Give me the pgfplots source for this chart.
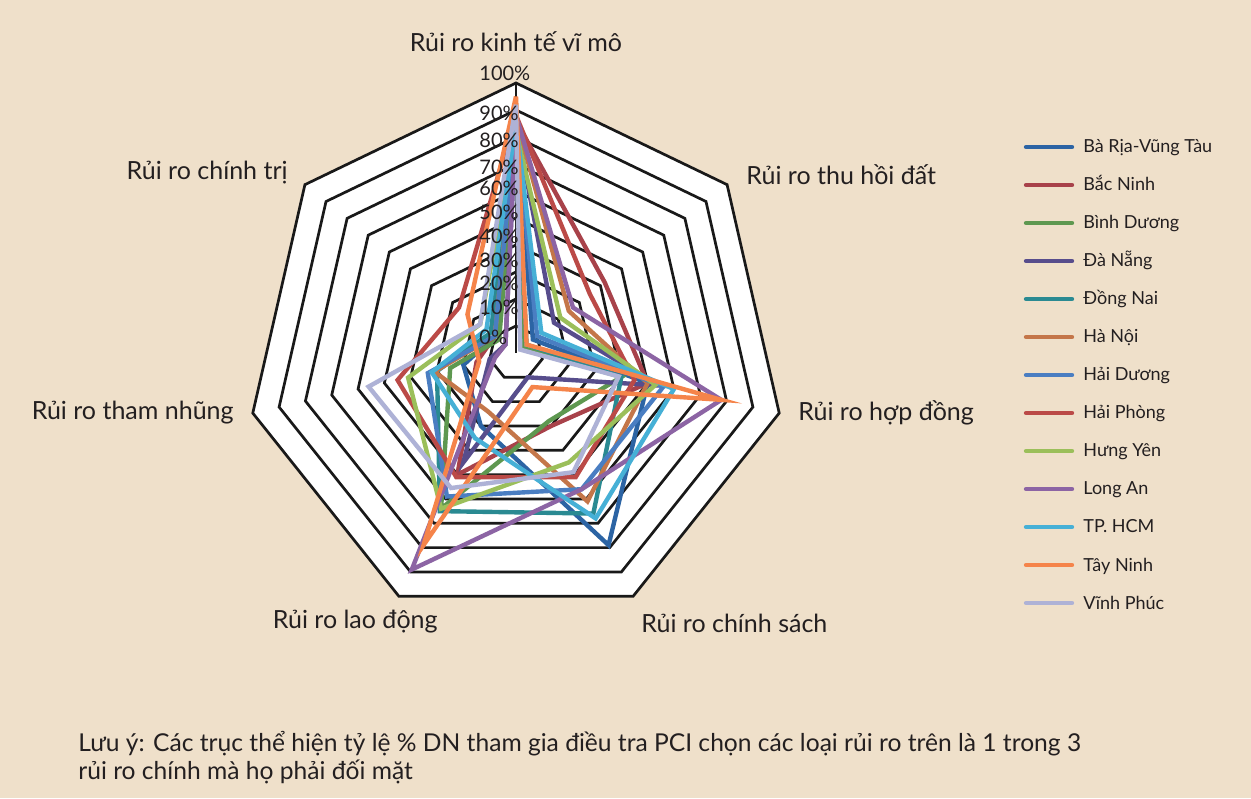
\documentclass[border=0pt]{standalone}
\usepackage{pgfplots}
\pgfplotsset{compat=1.18}
\usepackage{pgfplotstable}
\usepackage{fontspec}
\setmainfont{Lato}
\definecolor{bg}{HTML}{EFE0CA}
\definecolor{txt}{HTML}{231F20}
\definecolor{cBR}{HTML}{2C64A4}
\definecolor{cBN}{HTML}{A8424A}
\definecolor{cBD}{HTML}{5E9850}
\definecolor{cDN}{HTML}{574D8C}
\definecolor{cDGN}{HTML}{2A8A92}
\definecolor{cHN}{HTML}{C47649}
\definecolor{cHD}{HTML}{4A7EC2}
\definecolor{cHP}{HTML}{BB4A47}
\definecolor{cHY}{HTML}{9BBF5A}
\definecolor{cLA}{HTML}{8C64A4}
\definecolor{cHCM}{HTML}{46B0D6}
\definecolor{cTN}{HTML}{F5844A}
\definecolor{cVP}{HTML}{AEB2D6}

% rows: 0 kinh te vi mo, 1 thu hoi dat, 2 hop dong, 3 chinh sach, 4 lao dong, 5 tham nhung, 6 chinh tri, 7 = row 0 (closes the polygon)
\pgfplotstableread{
k BR   BN   BD   DN   DGN  HN   HD    HP   HY   LA   HCM  TN   VP
0 0.85 0.86 0.80 0.85 0.82 0.87 0.85  0.88 0.82 0.88 0.85 0.95 0.92
1 0.08 0.42 0.03 0.18 0.05 0.25 0.10  0.35 0.21 0.27 0.12 0.05 0.02
2 0.50 0.50 0.40 0.54 0.40 0.50 0.56  0.45 0.53 0.78 0.60 0.78 0.39
3 0.79 0.30 0.28 0.10 0.66 0.61 0.56  0.51 0.45 0.56 0.68 0.14 0.49
4 0.30 0.50 0.64 0.45 0.65 0.24 0.59  0.51 0.64 0.89 0.35 0.79 0.555
5 0.20 0.15 0.25 0.10 0.30 0.31 0.335 0.45 0.41 0.08 0.32 0.14 0.56
6 0.10 0.10 0.08 0.05 0.12 0.10 0.10  0.27 0.17 0.05 0.14 0.23 0.17
7 0.85 0.86 0.80 0.85 0.82 0.87 0.85  0.88 0.82 0.88 0.85 0.95 0.92
}\radar

\begin{document}
\begin{tikzpicture}[x=0.5pt,y=0.5pt,every node/.style={text=txt}]
\fill[bg] (0,0) rectangle (1251,798);
% plot area and rings
\begin{scope}[shift={(516,445)}]
\fill[white] (90:270) \foreach \k in {1,...,6}{ -- ({90-\k*360/7}:270)} -- cycle;
\foreach \r in {27,54,...,270}{
  \draw[line width=1.35pt,black!90] (90:\r) \foreach \k in {1,...,6}{ -- ({90-\k*360/7}:\r)} -- cycle;
}
\draw[line width=1.35pt,black!90] (0,0) -- (90:270);
\end{scope}

\begin{axis}[at={(258pt,222.5pt)},anchor=origin,x=135pt,y=135pt,
  xmin=-1.1,xmax=1.1,ymin=-1,ymax=1.1,hide axis,clip=false,
  every axis plot/.append style={line width=2.2pt,no marks}]
\addplot[cBR] table[x expr={\thisrow{BR}*sin(\thisrow{k}*360/7)},y expr={\thisrow{BR}*cos(\thisrow{k}*360/7)}]{\radar};
\addplot[cBN] table[x expr={\thisrow{BN}*sin(\thisrow{k}*360/7)},y expr={\thisrow{BN}*cos(\thisrow{k}*360/7)}]{\radar};
\addplot[cBD] table[x expr={\thisrow{BD}*sin(\thisrow{k}*360/7)},y expr={\thisrow{BD}*cos(\thisrow{k}*360/7)}]{\radar};
\addplot[cDN] table[x expr={\thisrow{DN}*sin(\thisrow{k}*360/7)},y expr={\thisrow{DN}*cos(\thisrow{k}*360/7)}]{\radar};
\addplot[cDGN] table[x expr={\thisrow{DGN}*sin(\thisrow{k}*360/7)},y expr={\thisrow{DGN}*cos(\thisrow{k}*360/7)}]{\radar};
\addplot[cHN] table[x expr={\thisrow{HN}*sin(\thisrow{k}*360/7)},y expr={\thisrow{HN}*cos(\thisrow{k}*360/7)}]{\radar};
\addplot[cHD] table[x expr={\thisrow{HD}*sin(\thisrow{k}*360/7)},y expr={\thisrow{HD}*cos(\thisrow{k}*360/7)}]{\radar};
\addplot[cHP] table[x expr={\thisrow{HP}*sin(\thisrow{k}*360/7)},y expr={\thisrow{HP}*cos(\thisrow{k}*360/7)}]{\radar};
\addplot[cHY] table[x expr={\thisrow{HY}*sin(\thisrow{k}*360/7)},y expr={\thisrow{HY}*cos(\thisrow{k}*360/7)}]{\radar};
\addplot[cLA] table[x expr={\thisrow{LA}*sin(\thisrow{k}*360/7)},y expr={\thisrow{LA}*cos(\thisrow{k}*360/7)}]{\radar};
\addplot[cHCM] table[x expr={\thisrow{HCM}*sin(\thisrow{k}*360/7)},y expr={\thisrow{HCM}*cos(\thisrow{k}*360/7)}]{\radar};
\addplot[cTN] table[x expr={\thisrow{TN}*sin(\thisrow{k}*360/7)},y expr={\thisrow{TN}*cos(\thisrow{k}*360/7)}]{\radar};
\addplot[cVP] table[x expr={\thisrow{VP}*sin(\thisrow{k}*360/7)},y expr={\thisrow{VP}*cos(\thisrow{k}*360/7)}]{\radar};
\end{axis}

% tick labels of the value axis
\foreach \v/\yy in {100/73,90/113,80/140,70/167,60/188,50/212,40/236,30/260,20/283,10/307,0/337}{
  \node[anchor=west,inner sep=0pt,font=\fontsize{10}{11}\selectfont] at (479,{798-\yy}) {\v\%};
}

% category labels
\begin{scope}[every node/.style={text=txt,font=\fontsize{12.5}{14}\selectfont,inner sep=0pt}]
\node[anchor=center] at (516,756) {Rủi ro kinh tế vĩ mô};
\node[anchor=west] at (746,623) {Rủi ro thu hồi đất};
\node[anchor=west] at (798,385) {Rủi ro hợp đồng};
\node[anchor=west] at (641,175) {Rủi ro chính sách};
\node[anchor=east] at (438,176) {Rủi ro lao động};
\node[anchor=east] at (234,385) {Rủi ro tham nhũng};
\node[anchor=east] at (288,625) {Rủi ro chính trị};
\end{scope}

% legend
\foreach \c/\t [count=\i from 0] in {cBR/Bà Rịa-Vũng Tàu,cBN/Bắc Ninh,cBD/Bình Dương,cDN/Đà Nẵng,cDGN/Đồng Nai,cHN/Hà Nội,cHD/Hải Dương,cHP/Hải Phòng,cHY/Hưng Yên,cLA/Long An,cHCM/TP. HCM,cTN/Tây Ninh,cVP/Vĩnh Phúc}{
  \draw[\c,line width=2.2pt,line cap=round] (1026,{651-38*\i}) -- (1072,{651-38*\i});
  \node[anchor=base west,inner sep=0pt,font=\fontsize{9}{11}\selectfont] at (1083,{651-38*\i-6}) {\t};
}

% note
\node[anchor=base west,inner sep=0pt,font=\fontsize{12.3}{14}\selectfont] at (78,47) {Lưu ý: Các trục thể hiện tỷ lệ \% DN tham gia điều tra PCI chọn các loại rủi ro trên là 1 trong 3};
\node[anchor=base west,inner sep=0pt,font=\fontsize{12.3}{14}\selectfont] at (78,19) {rủi ro chính mà họ phải đối mặt};

\pgfresetboundingbox
\useasboundingbox (0,0) rectangle (1251,798);
\end{tikzpicture}
\end{document}
